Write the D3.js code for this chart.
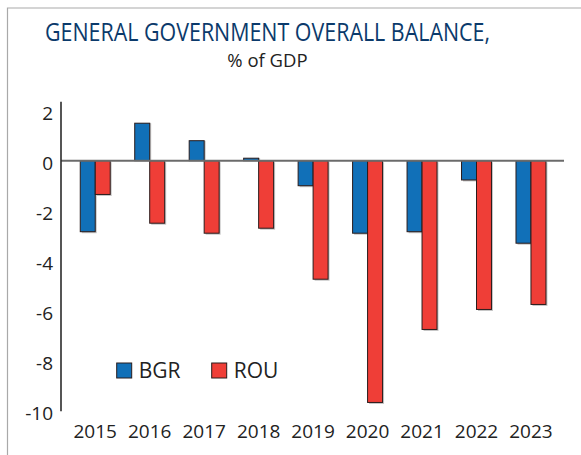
<!DOCTYPE html>
<html>
<head>
<meta charset="utf-8">
<script src="https://cdn.jsdelivr.net/npm/d3@7"></script>
<style>
  html, body { margin: 0; padding: 0; background: #fff; }
  svg { display: block; font-family: "Open Sans", sans-serif; }
</style>
</head>
<body>
<svg id="chart" width="581" height="455"></svg>
<script>
const years = ["2015","2016","2017","2018","2019","2020","2021","2022","2023"];
const seriesNames = ["BGR", "ROU"];
const bgr = [-2.84, 1.5, 0.8, 0.1, -1.0, -2.9, -2.84, -0.77, -3.3];
const rou = [-1.35, -2.5, -2.9, -2.7, -4.74, -9.67, -6.75, -5.95, -5.75];
const yTicks = [2, 0, -2, -4, -6, -8, -10];
const colors = ["#1170b8", "#ef3e37"];

const svg = d3.select("#chart");

// frame
svg.append("path")
  .attr("d", "M7.5,460 V8 H590")
  .attr("fill", "none").attr("stroke", "#a9a9a9").attr("stroke-width", 1.2);

// title
svg.append("text").attr("x", 267.5).attr("y", 40.5).attr("text-anchor", "middle")
  .attr("fill", "#0b3a6b").attr("font-size", 25).attr("id", "title")
  .text("GENERAL GOVERNMENT OVERALL BALANCE,");
svg.append("text").attr("x", 267.5).attr("y", 67).attr("text-anchor", "middle")
  .attr("fill", "#222").attr("font-size", 18.5)
  .text("% of GDP");
const t = document.getElementById("title");
t.setAttribute("textLength", 445);
t.setAttribute("lengthAdjust", "spacingAndGlyphs");

const y = d3.scaleLinear().domain([-10, 2]).range([410.7, 110.7]);
const x0 = d3.scaleBand().domain(years).range([68, 558.2]).paddingInner(0.45).paddingOuter(0.225);
const x1 = d3.scaleBand().domain(seriesNames).range([0, x0.bandwidth()]);

const data = years.map((yr, i) => ({ year: yr, vals: [bgr[i], rou[i]] }));

const g = svg.append("g");
const groups = g.selectAll("g.grp").data(data).join("g")
  .attr("transform", d => `translate(${x0(d.year)},0)`);

// shadows
groups.selectAll("rect.sh").data(d => d.vals.map((v, k) => ({ v, k }))).join("rect")
  .attr("x", d => x1(seriesNames[d.k]) + 1.5)
  .attr("y", d => Math.min(y(d.v), y(0)) + (d.v < 0 ? 1.5 : 0))
  .attr("width", x1.bandwidth())
  .attr("height", d => Math.abs(y(d.v) - y(0)))
  .attr("fill", "#c4c4c4");

groups.selectAll("rect.bar").data(d => d.vals.map((v, k) => ({ v, k }))).join("rect")
  .attr("class", "bar")
  .attr("x", d => x1(seriesNames[d.k]))
  .attr("y", d => Math.min(y(d.v), y(0)))
  .attr("width", x1.bandwidth())
  .attr("height", d => Math.abs(y(d.v) - y(0)))
  .attr("fill", d => colors[d.k])
  .attr("stroke", "#2a1c1c").attr("stroke-width", 1);

// zero line
g.append("line").attr("x1", 61).attr("x2", 564).attr("y1", y(0)).attr("y2", y(0))
  .attr("stroke", "#6b6b6b").attr("stroke-width", 2);

// y axis
const yAxis = d3.axisLeft(y).tickValues(yTicks).tickSize(0).tickPadding(8).tickFormat(d => d < 0 ? "-" + Math.abs(d) : d);
const ya = svg.append("g").attr("transform", "translate(61,0)").call(yAxis);
ya.select(".domain").remove();
ya.selectAll("text").attr("font-family", "Open Sans, sans-serif").attr("font-size", 19).attr("fill", "#222").attr("dy", "0.45em");
svg.append("line").attr("x1", 61).attr("x2", 61).attr("y1", y(2.36)).attr("y2", y(-10.02))
  .attr("stroke", "#2b2b2b").attr("stroke-width", 1.6);

// x labels
const xAxis = d3.axisBottom(x0).tickSize(0).tickPadding(0);
const xa = svg.append("g").attr("transform", "translate(0,424)").call(xAxis);
xa.select(".domain").remove();
xa.selectAll("text").attr("font-family", "Open Sans, sans-serif").attr("font-size", 19).attr("fill", "#222").attr("dy", "0.71em").attr("y", 0);

// legend
const legX = [116.7, 211.7];
const leg = svg.append("g");
seriesNames.forEach((n, k) => {
  leg.append("rect").attr("x", legX[k]).attr("y", 363).attr("width", 15).attr("height", 15)
    .attr("fill", colors[k]).attr("stroke", "#2a1c1c").attr("stroke-width", 1);
  leg.append("text").attr("x", legX[k] + 22).attr("y", 377.5).attr("font-size", 21).attr("fill", "#222").text(n);
});
</script>
</body>
</html>
